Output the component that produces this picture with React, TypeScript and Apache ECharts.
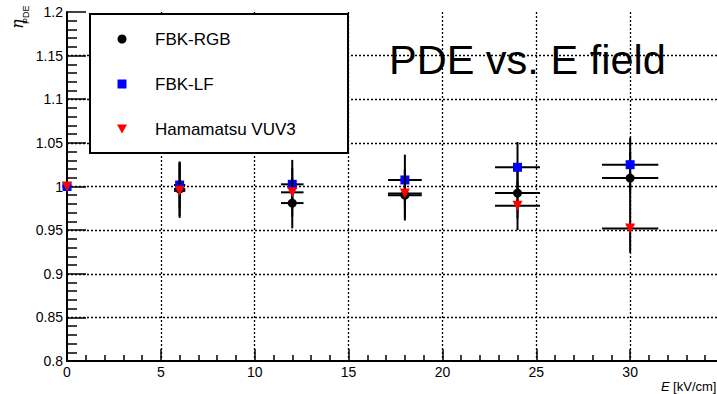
import React, { useEffect, useRef } from "react";
import * as echarts from "echarts";

// Electric field values (kV/cm) and their horizontal uncertainties
const fieldKVcm = [0, 6, 12, 18, 24, 30];
const fieldErr = [0, 0.3, 0.6, 0.9, 1.2, 1.5];

// Relative PDE per device
const rgbPDE = [1.0, 0.997, 0.981, 0.99, 0.9925, 1.0097];
const rgbErr = [0, 0.031, 0.029, 0.029, 0.029, 0.03];
const lfPDE = [1.0, 1.0017, 1.0025, 1.0075, 1.022, 1.025];
const lfErr = [0, 0.027, 0.028, 0.029, 0.029, 0.031];
const vuvPDE = [1.0, 0.995, 0.9933, 0.992, 0.978, 0.952];
const vuvErr = [0, 0.031, 0.028, 0.028, 0.028, 0.028];

const seriesNames = ["FBK-RGB", "FBK-LF", "Hamamatsu VUV3"];
const seriesColors = ["#000000", "#0000ff", "#ff0000"];
const seriesSymbols = ["circle", "rect", "triangle"];
const seriesRotate = [0, 0, 180];
const seriesSizes = [9, 9, 10];

const titleText = "PDE vs. E field";
const xTitleMain = "E";
const xTitleUnit = " [kV/cm]";
const yTitleMain = "η";
const yTitleSub = "PDE";

const FONT = "'Liberation Sans', Arial, Helvetica, sans-serif";

function buildData(ys: number[], yErr: number[]) {
  return fieldKVcm.map((x, i) => [x, ys[i], fieldErr[i], yErr[i]]);
}

const errRender = (_params: any, api: any) => {
  const x = api.value(0);
  const y = api.value(1);
  const ex = api.value(2);
  const ey = api.value(3);
  const children: any[] = [];
  const st = { stroke: "#000", lineWidth: 2 };
  if (ex > 0) {
    const a = api.coord([x - ex, y]);
    const b = api.coord([x + ex, y]);
    children.push({ type: "line", shape: { x1: a[0], y1: a[1], x2: b[0], y2: b[1] }, style: st });
  }
  if (ey > 0) {
    const a = api.coord([x, y - ey]);
    const b = api.coord([x, y + ey]);
    children.push({ type: "line", shape: { x1: a[0], y1: a[1], x2: b[0], y2: b[1] }, style: st });
  }
  return { type: "group", children };
};

export default function App() {
  const ref = useRef<HTMLDivElement>(null);

  useEffect(() => {
    document.body.style.margin = "0";
    if (!ref.current) return;
    const chart = echarts.init(ref.current, undefined, { renderer: "svg" });
    const datasets = [buildData(rgbPDE, rgbErr), buildData(lfPDE, lfErr), buildData(vuvPDE, vuvErr)];

    const series: any[] = [];
    datasets.forEach((d, i) => {
      series.push({
        type: "custom",
        name: seriesNames[i] + " err",
        renderItem: errRender,
        data: d,
        z: 2 + i * 2,
        encode: { x: 0, y: 1 },
        silent: true,
      });
      series.push({
        type: "scatter",
        name: seriesNames[i],
        data: d.map((p) => [p[0], p[1]]),
        symbol: seriesSymbols[i],
        symbolSize: seriesSizes[i],
        symbolRotate: seriesRotate[i],
        itemStyle: { color: seriesColors[i], opacity: 1 },
        z: 3 + i * 2,
        clip: false,
      });
    });

    const gridLine = { color: "#000", type: [2, 2], width: 1.3 };

    const legendItems: any[] = [
      {
        type: "rect",
        shape: { x: 90, y: 14, width: 258, height: 139 },
        style: { fill: "#fff", stroke: "#000", lineWidth: 2 },
      },
      { type: "circle", shape: { cx: 122, cy: 39, r: 4.5 }, style: { fill: seriesColors[0] } },
      { type: "rect", shape: { x: 117.5, y: 79.5, width: 9, height: 9 }, style: { fill: seriesColors[1] } },
      {
        type: "polygon",
        shape: { points: [[117, 124.5], [127, 124.5], [122, 133.5]] },
        style: { fill: seriesColors[2] },
      },
    ];
    const legendY = [39, 84, 129];
    seriesNames.forEach((n, i) => {
      legendItems.push({
        type: "text",
        x: 155,
        y: legendY[i],
        style: { text: n, font: `17px ${FONT}`, fill: "#000", align: "left", verticalAlign: "middle" },
      });
    });

    chart.setOption({
      animation: false,
      backgroundColor: "#fff",
      grid: { left: 67, top: 12, right: -7, bottom: 33, containLabel: false, outerBoundsMode: "none" },
      xAxis: {
        type: "value",
        min: 0,
        max: 35,
        interval: 5,
        axisLine: { show: true, onZero: false, lineStyle: { color: "#000", width: 2 } },
        axisTick: { show: true, inside: true, length: 12, lineStyle: { color: "#000", width: 1.5 } },
        minorTick: { show: true, splitNumber: 5, length: 6, lineStyle: { color: "#000", width: 1.5 } },
        axisLabel: {
          color: "#000",
          fontSize: 14,
          fontFamily: FONT,
          margin: 4,
          showMaxLabel: false,
        },
        splitLine: { show: true, showMinLine: false, showMaxLine: false, lineStyle: gridLine },
      },
      yAxis: {
        type: "value",
        min: 0.8,
        max: 1.2,
        interval: 0.05,
        axisLine: { show: true, onZero: false, lineStyle: { color: "#000", width: 2 } },
        axisTick: { show: true, inside: true, length: 19, lineStyle: { color: "#000", width: 1.5 } },
        minorTick: { show: true, splitNumber: 5, length: 10, lineStyle: { color: "#000", width: 1.5 } },
        axisLabel: { color: "#000", fontSize: 14, fontFamily: FONT, margin: 4 },
        splitLine: { show: true, showMinLine: false, showMaxLine: false, lineStyle: gridLine },
      },
      series,
      graphic: [
        ...legendItems.map((g) => ({ ...g, z: 100 })),
        {
          type: "text",
          x: 389,
          y: 59,
          z: 100,
          style: { text: titleText, font: `41.5px ${FONT}`, fill: "#000", align: "left", verticalAlign: "middle" },
        },
        {
          type: "text",
          x: 661,
          y: 386,
          z: 100,
          style: { text: xTitleMain, font: `italic 13px ${FONT}`, fill: "#000", align: "left", verticalAlign: "middle" },
        },
        {
          type: "text",
          x: 669.5,
          y: 386,
          z: 100,
          style: { text: xTitleUnit, font: `13px ${FONT}`, fill: "#000", align: "left", verticalAlign: "middle" },
        },
        {
          type: "text",
          x: 17,
          y: 29,
          rotation: Math.PI / 2,
          z: 100,
          style: { text: yTitleMain, font: `italic 16px 'DejaVu Serif', serif`, fill: "#000", align: "left", verticalAlign: "middle" },
        },
        {
          type: "text",
          x: 26,
          y: 24,
          rotation: Math.PI / 2,
          z: 100,
          style: { text: yTitleSub, font: `9px ${FONT}`, fill: "#000", align: "left", verticalAlign: "middle" },
        },
      ],
    });
    return () => chart.dispose();
  }, []);

  return (
    <div
      ref={ref}
      style={{ position: "absolute", left: 0, top: 0, width: 717, height: 394, background: "#fff" }}
    />
  );
}
